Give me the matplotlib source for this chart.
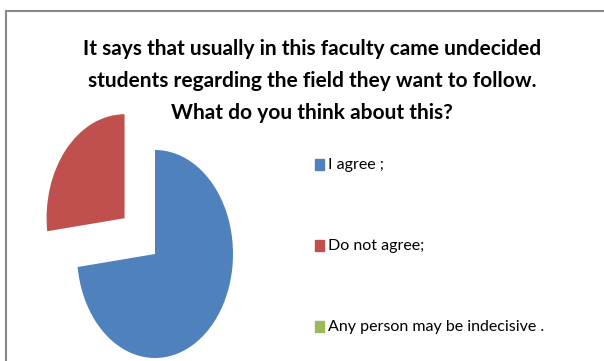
import matplotlib.pyplot as plt
from matplotlib.lines import Line2D
from matplotlib.patches import Rectangle

labels = ["I agree ;", "Do not agree;", "Any person may be indecisive ."]
values = [73, 27, 0]
colors = ["#4F81BD", "#C0504D", "#9BBB59"]
explode = [0, 0.52, 0]

title = ("It says that usually in this faculty came undecided\n"
         "students regarding the field they want to follow.\n"
         "What do you think about this?")

W, H = 604, 361
fig = plt.figure(figsize=(W / 100, H / 100), dpi=100)

# pie axes: centre at pixel (155, 254), radii 78 px (x) and 104 px (y)
cx, cy, rx, ry = 155, 254, 78, 104
half_w, half_h = 155, 150
ax = fig.add_axes([(cx - half_w) / W, (H - cy - half_h) / H, 2 * half_w / W, 2 * half_h / H])
ax.pie(values, colors=colors, explode=explode, startangle=90, counterclock=False,
       wedgeprops=dict(linewidth=0))
ax.set_aspect("auto")
ax.set_xlim(-half_w / rx, half_w / rx)
ax.set_ylim(-half_h / ry, half_h / ry)
ax.axis("off")

fig.text(312 / W, 1 - 81 / H, title, ha="center", va="center", fontsize=15,
         fontweight="bold", family="Lato", linespacing=1.75)

# legend
rows_y = [165, 246, 327]
for lab, col, y in zip(labels, colors, rows_y):
    fig.patches.append(Rectangle((315 / W, 1 - (y + 5) / H), 9 / W, 11 / H,
                                 transform=fig.transFigure, color=col))
    fig.text(328 / W, 1 - y / H, lab, ha="left", va="center", fontsize=11.5,
             family="Lato")

# frame (top and left only)
fig.add_artist(Line2D([6 / W, 1], [1 - 11 / H, 1 - 11 / H], color="#888888", lw=1.5))
fig.add_artist(Line2D([6 / W, 6 / W], [0, 1 - 11 / H], color="#888888", lw=1.5))

plt.savefig("out.png", dpi=100)
